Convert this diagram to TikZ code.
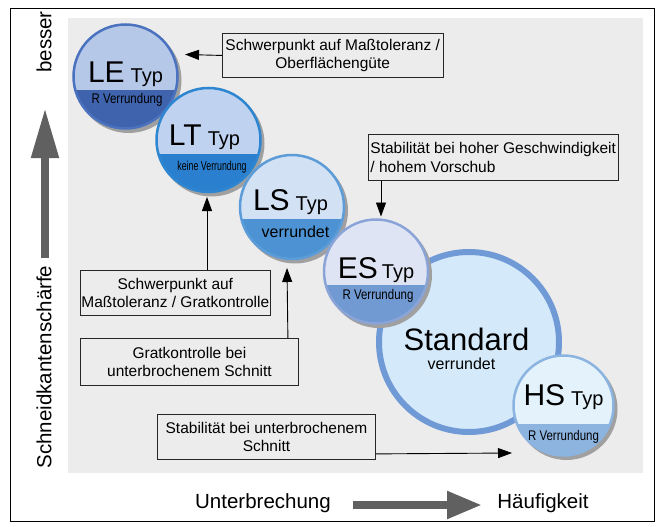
\documentclass[tikz,border=0pt]{standalone}
\usepackage{fontspec}
\setmainfont{Liberation Sans}
\usetikzlibrary{arrows.meta, positioning, calc}

\definecolor{panelgray}{RGB}{236,236,236}
\definecolor{arrowgray}{RGB}{96,96,96}
\definecolor{shadowgray}{RGB}{160,160,160}
\definecolor{leRim}{RGB}{74,114,191}
\definecolor{leTop}{RGB}{181,200,232}
\definecolor{leBot}{RGB}{63,99,173}
\definecolor{ltRim}{RGB}{46,134,209}
\definecolor{ltTop}{RGB}{191,210,239}
\definecolor{ltBot}{RGB}{42,127,207}
\definecolor{lsRim}{RGB}{92,156,216}
\definecolor{lsTop}{RGB}{211,225,244}
\definecolor{lsBot}{RGB}{77,147,211}
\definecolor{esRim}{RGB}{138,164,216}
\definecolor{esTop}{RGB}{223,228,244}
\definecolor{esBot}{RGB}{113,153,210}
\definecolor{stdRim}{RGB}{111,154,214}
\definecolor{stdFill}{RGB}{212,234,250}
\definecolor{hsRim}{RGB}{140,180,224}
\definecolor{hsTop}{RGB}{228,242,252}
\definecolor{hsBot}{RGB}{141,180,223}

\begin{document}
\begin{tikzpicture}[x=1pt, y=-1pt,
  hint/.style={draw=black!85, line width=0.9pt, align=center, anchor=north west,
    font=\fontsize{15.5}{18.5}\selectfont, inner xsep=3pt, inner ysep=3pt},
  callout/.style={line width=0.9pt, -{Triangle[length=14pt,width=10pt]}},
  bigarrow/.style={line width=8pt, draw=arrowgray},
  axislabel/.style={font=\fontsize{20.5}{22}\selectfont},
  namelabel/.style={anchor=base, font=\fontsize{20}{20}\selectfont},
  sublabel/.style={font=\fontsize{14}{14}\selectfont},
  typcircle/.style n args={4}{circle, draw=#1, line width=2.5pt, fill=#2,
    path picture={\fill[#3] ([yshift=-#4]path picture bounding box.west)
      rectangle (path picture bounding box.south east);}},
]
\useasboundingbox (0,0) rectangle (664,527);
\draw[line width=0.8pt] (10,8) rectangle (654,521);
\fill[panelgray] (68,18) rectangle (643,473);

%% axes
\coordinate (vStart) at (45,258);
\coordinate (vEnd) at (45,108);
\coordinate (hStart) at (353,505);
\coordinate (hEnd) at (482,505);
\draw[bigarrow, -{Triangle[length=50pt,width=26pt]}] (vStart) -- (vEnd);
\draw[bigarrow, -{Triangle[length=35pt,width=26pt]}] (hStart) -- (hEnd);

\node[axislabel, rotate=90] (besser) at (44,42) {besser};
\node[axislabel, rotate=90] (schaerfe) at (44,367) {Schneidkantenschärfe};
\node[axislabel] (unterbr) at (263,503) {Unterbrechung};
\node[axislabel] (haeufig) at (543,503) {Häufigkeit};

%% standard
\node[circle, draw=stdRim, fill=stdFill, line width=6pt, minimum size=180] (std) at (469,342) {};
\node[anchor=base, font=\fontsize{31}{31}\selectfont] (stdName) at (466.5,350) {Standard};
\node[font=\fontsize{16}{16}\selectfont] (stdSub) at (461.5,364) {verrundet};

%% types
\foreach \n/\cx/\cy/\d/\cut/\rc/\tc/\bc in {
  le/125.5/76.5/104/13/leRim/leTop/leBot,
  lt/208.5/140/104/14/ltRim/ltTop/ltBot,
  ls/292/207/104/12/lsRim/lsTop/lsBot,
  es/376/271.5/104/13/esRim/esTop/esBot,
  hs/563.5/405.5/100/18/hsRim/hsTop/hsBot}
{
\fill[shadowgray] (\cx+3,\cy+3.5) circle [radius=\d/2+1];
\node[typcircle={\rc}{\tc}{\bc}{\cut}, minimum size=\d] (\n) at (\cx,\cy) {};
}

\node[namelabel] (leName) at (125.5,82) {{\fontsize{30}{30}\selectfont LE}\hspace{6pt}Typ};
\node[namelabel] (ltName) at (204.5,145) {{\fontsize{30}{30}\selectfont LT}\hspace{6pt}Typ};
\node[namelabel] (lsName) at (290.5,210.5) {{\fontsize{30}{30}\selectfont LS}\hspace{6pt}Typ};
\node[namelabel] (esName) at (376,278) {{\fontsize{30}{30}\selectfont ES}\hspace{4pt}Typ};
\node[namelabel] (hsName) at (563.5,405) {{\fontsize{30}{30}\selectfont HS}\hspace{6pt}Typ};

\node[sublabel] (leSub) at (127,100) {\scalebox{0.82}[1]{R Verrundung}};
\node[sublabel, font=\fontsize{13}{13}\selectfont] (ltSub) at (212,167) {\scalebox{0.68}[1]{keine Verrundung}};
\node[font=\fontsize{16}{16}\selectfont] (lsSub) at (295.5,231.5) {verrundet};
\node[sublabel] (esSub) at (378,296) {\scalebox{0.82}[1]{R Verrundung}};
\node[sublabel] (hsSub) at (563.5,437) {\scalebox{0.82}[1]{R Verrundung}};

%% hints
\node[hint, minimum height=44] (hint1) at (222,33) {Schwerpunkt auf Maßtoleranz /\\Oberflächengüte};
\node[hint, align=left, inner xsep=2pt, minimum height=46] (hint2) at (368,134) {Stabilität bei hoher Geschwindigkeit\\/ hohem Vorschub};
\node[hint, inner xsep=1pt, minimum width=188, minimum height=45] (hint3) at (80,270) {Schwerpunkt auf\\Maßtoleranz / Gratkontrolle};
\node[hint, minimum width=218, minimum height=47] (hint4) at (80,338) {Gratkontrolle bei\\unterbrochenem Schnitt};
\node[hint, minimum width=218, minimum height=45] (hint5) at (157,414) {Stabilität bei unterbrochenem\\Schnitt};

\coordinate (leTip) at (185,54.5);
\coordinate (esTip) at (381,216.5);
\coordinate (ltTip) at (207,197);
\coordinate (lsTip) at (287,268);
\coordinate (hsTip) at (512,453);

\draw[callout] (hint1.west) -- (leTip);
\draw[callout] ([xshift=13pt]hint2.south west) -- (esTip);
\draw[callout] ([xshift=127pt]hint3.north west) -- (ltTip);
\draw[callout] ([xshift=-11pt]hint4.north east) -- (lsTip);
\draw[callout] ([yshift=6pt]hint5.south east) -- (hsTip);
\end{tikzpicture}
\end{document}
